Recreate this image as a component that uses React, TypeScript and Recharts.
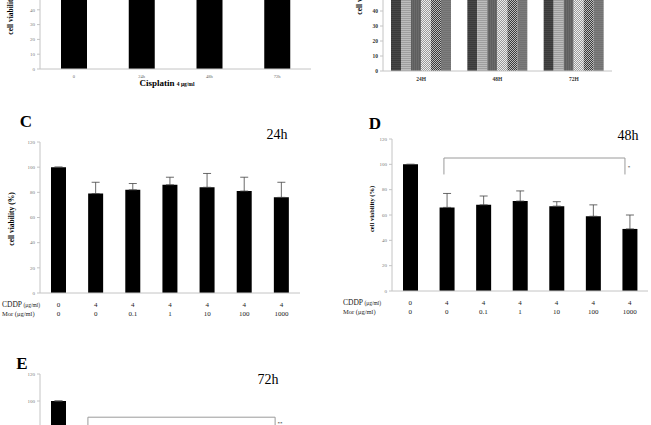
import React from 'react';
import { BarChart, Bar, XAxis, YAxis, ErrorBar, ReferenceLine } from 'recharts';

const SERIF = '"Liberation Serif", "Times New Roman", Times, serif';
const AXIS = '#c4c4c4';

// Panel A (cisplatin time course)
const aTimes = ['0', '24h', '48h', '72h'];
const aValues = [100, 92, 85, 78];
const abTicks = [0, 10, 20, 30, 40];

// Panel B (grouped by time)
const bTimes = ['24H', '48H', '72H'];
const bS1 = [100, 100, 100];
const bS2 = [92, 85, 80];
const bS3 = [90, 82, 76];
const bS4 = [93, 84, 78];
const bS5 = [88, 80, 72];
const bS6 = [86, 76, 66];

// Panels C, D, E
const cddp = ['0', '4', '4', '4', '4', '4', '4'];
const mor = ['0', '0', '0.1', '1', '10', '100', '1000'];
const cValues = [100, 79, 82, 86, 84, 81, 76];
const cErr = [0, 9, 5, 6, 11, 11, 12];
const dValues = [100, 66, 68, 71, 67, 59, 49];
const dErr = [0, 11, 7, 8, 3.5, 9, 11];
const eValues = [100, 58, 60, 62, 57, 50, 43];
const eErr = [0, 8, 7, 9, 6, 8, 9];
const cdeTicks = [0, 20, 40, 60, 80, 100, 120];

const aData = aTimes.map((t, i) => ({ t, v: aValues[i] }));
const bData = bTimes.map((t, i) => ({ t, s1: bS1[i], s2: bS2[i], s3: bS3[i], s4: bS4[i], s5: bS5[i], s6: bS6[i] }));
const mk = (vals: number[], errs: number[]) => vals.map((v, i) => ({ x: i, v, e: [0, errs[i]] }));
const cData = mk(cValues, cErr);
const dData = mk(dValues, dErr);
const eData = mk(eValues, eErr);

const idx = [0, 1, 2, 3, 4, 5, 6];

function Txt({ x, y, size, bold, children, rotate }: any) {
  return (
    <div
      style={{
        position: 'absolute',
        left: x,
        top: y,
        transform: `translate(-50%, -50%)${rotate ? ' rotate(-90deg)' : ''}`,
        fontSize: size,
        fontWeight: bold ? 'bold' : 'normal',
        fontFamily: SERIF,
        whiteSpace: 'nowrap',
        lineHeight: 1,
        color: '#000',
      }}
    >
      {children}
    </div>
  );
}

function makeDoseTick(headerX: number) {
  return function DoseTick(props: any) {
    const { x, y, payload } = props;
    const i = payload.value;
    return (
      <g fontFamily={SERIF} fill="#222">
        {i === 0 && (
          <>
            <text x={headerX} y={y + 13.5} fontSize={7.5} textAnchor="start">
              CDDP<tspan fontSize={5.5}> (μg/ml)</tspan>
            </text>
            <text x={headerX} y={y + 22.5} fontSize={6.5} textAnchor="start">
              Mor  (μg/ml)
            </text>
          </>
        )}
        <text x={x} y={y + 13.5} fontSize={7} textAnchor="middle">{cddp[i]}</text>
        <text x={x} y={y + 22.5} fontSize={7} textAnchor="middle">{mor[i]}</text>
      </g>
    );
  };
}

function TimeTickA(props: any) {
  const { x, y, payload } = props;
  return (
    <text x={x} y={y + 8.5} fontSize={4.5} fill="#666" textAnchor="middle" fontFamily={SERIF}>
      {payload.value}
    </text>
  );
}

function TimeTickB(props: any) {
  const { x, y, payload } = props;
  return (
    <text x={x} y={y + 10} fontSize={5.5} fontWeight="bold" fill="#333" textAnchor="middle" fontFamily={SERIF}>
      {payload.value}
    </text>
  );
}

const yTick = { fontSize: 5, fill: '#777', fontFamily: SERIF };

function DosePanel({ data, left, top, width, height, yWidth, marginRight, headerX, children }: any) {
  const DoseTick = makeDoseTick(headerX);
  return (
    <div style={{ position: 'absolute', left, top }}>
      <BarChart width={width} height={height} data={data} margin={{ top: 10, right: marginRight, bottom: 0, left: 0 }}>
        <XAxis
          dataKey="x"
          type="number"
          domain={[-0.5, 6.5]}
          ticks={idx}
          interval={0}
          allowDataOverflow
          tickLine={false}
          tickSize={0}
          tickMargin={0}
          axisLine={{ stroke: AXIS }}
          height={28}
          tick={<DoseTick />}
        />
        <YAxis
          domain={[0, 120]}
          ticks={cdeTicks}
          interval={0}
          width={yWidth}
          tickSize={3}
          tick={yTick}
          axisLine={{ stroke: AXIS }}
          tickLine={{ stroke: AXIS }}
        />
        <Bar dataKey="v" fill="#000" barSize={15} isAnimationActive={false}>
          <ErrorBar dataKey="e" direction="y" width={4} stroke="#444" strokeWidth={0.8} />
        </Bar>
        {children}
      </BarChart>
    </div>
  );
}

const bracketD = { x1: 0.92, x2: 5.87, top: 105, bottom: 92 };
const bracketE = { x1: 0.79, x2: 5.83, top: 88, bottom: 70 };

function bracket(b: any, key: string) {
  return [
    <ReferenceLine key={key + 'h'} segment={[{ x: b.x1, y: b.top }, { x: b.x2, y: b.top }]} stroke="#9a9a9a" strokeWidth={1} />,
    <ReferenceLine key={key + 'l'} segment={[{ x: b.x1, y: b.top }, { x: b.x1, y: b.bottom }]} stroke="#9a9a9a" strokeWidth={1} />,
    <ReferenceLine key={key + 'r'} segment={[{ x: b.x2, y: b.top }, { x: b.x2, y: b.bottom }]} stroke="#9a9a9a" strokeWidth={1} />,
  ];
}

export default function App() {
  return (
    <div
      style={{
        position: 'absolute',
        left: 0,
        top: 0,
        width: 651,
        height: 425,
        overflow: 'hidden',
        background: '#fff',
        fontFamily: SERIF,
      }}
    >
      {/* Panel A */}
      <div style={{ position: 'absolute', left: 0, top: -84 }}>
        <BarChart width={321} height={175} data={aData} margin={{ top: 5, right: 10, bottom: 0, left: 0 }}>
          <XAxis
            dataKey="t"
            tickLine={false}
            tickSize={0}
            tickMargin={0}
            axisLine={{ stroke: AXIS }}
            height={22}
            tick={<TimeTickA />}
            interval={0}
          />
          <YAxis
            domain={[0, 100]}
            ticks={abTicks}
            interval={0}
            width={40}
            tickSize={3}
            tick={yTick}
            axisLine={{ stroke: AXIS }}
            tickLine={{ stroke: AXIS }}
          />
          <Bar dataKey="v" fill="#000" barSize={26} isAnimationActive={false} />
        </BarChart>
      </div>
      <Txt x={11} y={8} size={7.5} bold rotate>cell viability (%)</Txt>
      <Txt x={167} y={83} size={9} bold>
        Cisplatin <span style={{ fontSize: 5.5 }}>4 μg/ml</span>
      </Txt>

      {/* Panel B */}
      <div style={{ position: 'absolute', left: 343, top: -84 }}>
        <BarChart width={279} height={177} data={bData} barGap={0} margin={{ top: 5, right: 10, bottom: 0, left: 0 }}>
          <defs>
            <pattern id="pb1" width="2" height="2" patternUnits="userSpaceOnUse">
              <rect width="2" height="2" fill="#474747" />
              <rect width="2" height="1" fill="#3a3a3a" />
            </pattern>
            <pattern id="pb2" width="2" height="2" patternUnits="userSpaceOnUse">
              <rect width="2" height="2" fill="#bdbdbd" />
              <rect width="2" height="1" fill="#9e9e9e" />
            </pattern>
            <pattern id="pb3" width="2" height="2" patternUnits="userSpaceOnUse">
              <rect width="2" height="2" fill="#6a6a6a" />
              <rect width="1" height="2" fill="#5e5e5e" />
            </pattern>
            <pattern id="pb4" width="2" height="2" patternUnits="userSpaceOnUse">
              <rect width="2" height="2" fill="#eeeeee" />
              <rect width="1" height="1" fill="#9a9a9a" />
              <rect x="1" y="1" width="1" height="1" fill="#9a9a9a" />
            </pattern>
            <pattern id="pb5" width="2" height="2" patternUnits="userSpaceOnUse">
              <rect width="2" height="2" fill="#bbbbbb" />
              <rect width="1" height="1" fill="#3a3a3a" />
              <rect x="1" y="1" width="1" height="1" fill="#3a3a3a" />
            </pattern>
            <pattern id="pb6" width="2" height="2" patternUnits="userSpaceOnUse">
              <rect width="2" height="2" fill="#7c7c7c" />
              <rect width="2" height="1" fill="#727272" />
            </pattern>
          </defs>
          <XAxis
            dataKey="t"
            tickLine={false}
            tickSize={0}
            tickMargin={0}
            axisLine={{ stroke: AXIS }}
            height={22}
            tick={<TimeTickB />}
            interval={0}
          />
          <YAxis
            domain={[0, 100]}
            ticks={abTicks}
            interval={0}
            width={40}
            tickSize={3}
            tick={{ fontSize: 5.5, fill: '#333', fontFamily: SERIF, fontWeight: 'bold' }}
            axisLine={{ stroke: AXIS }}
            tickLine={{ stroke: AXIS }}
          />
          <Bar dataKey="s1" fill="url(#pb1)" barSize={10} isAnimationActive={false} />
          <Bar dataKey="s2" fill="url(#pb2)" barSize={10} isAnimationActive={false} />
          <Bar dataKey="s3" fill="url(#pb3)" barSize={10} isAnimationActive={false} />
          <Bar dataKey="s4" fill="url(#pb4)" barSize={10} isAnimationActive={false} />
          <Bar dataKey="s5" fill="url(#pb5)" barSize={10} isAnimationActive={false} />
          <Bar dataKey="s6" fill="url(#pb6)" barSize={10} isAnimationActive={false} />
        </BarChart>
      </div>
      <Txt x={360} y={-12} size={7.5} bold rotate>cell viability (%)</Txt>

      {/* Panel C */}
      <DosePanel data={cData} left={0} top={132} width={310} height={189} yWidth={40} marginRight={10} headerX={2} />
      <Txt x={26} y={121} size={17} bold>C</Txt>
      <Txt x={277} y={135} size={14}>24h</Txt>
      <Txt x={12} y={219} size={7.5} bold rotate>cell viability (%)</Txt>

      {/* Panel D */}
      <DosePanel data={dData} left={330} top={129} width={321} height={190} yWidth={62} marginRight={3} headerX={13}>
        {bracket(bracketD, 'd')}
      </DosePanel>
      <Txt x={375} y={123} size={17} bold>D</Txt>
      <Txt x={628} y={136} size={14}>48h</Txt>
      <Txt x={372} y={209} size={6.5} bold rotate>cell viability (%)</Txt>
      <Txt x={629} y={167} size={5}>*</Txt>

      {/* Panel E */}
      <DosePanel data={eData} left={0} top={364} width={310} height={200} yWidth={40} marginRight={10} headerX={2}>
        {bracket(bracketE, 'e')}
      </DosePanel>
      <Txt x={22} y={363} size={17} bold>E</Txt>
      <Txt x={268} y={380} size={14}>72h</Txt>
      <Txt x={280} y={423} size={5}>**</Txt>
    </div>
  );
}
